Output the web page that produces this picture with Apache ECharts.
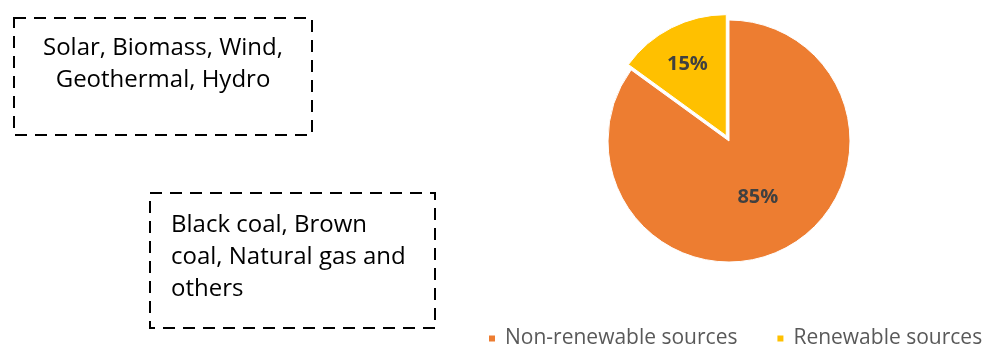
<!DOCTYPE html>
<html>
<head>
<meta charset="utf-8">
<script src="https://cdn.jsdelivr.net/npm/echarts@6/dist/echarts.min.js"></script>
<style>
  html, body { margin: 0; padding: 0; background: #fff; }
  #chart { width: 984px; height: 349px; }
</style>
</head>
<body>
<div id="chart"></div>
<script>
// Electricity generation mix: share of each source group (%)
const categories = ['Non-renewable sources', 'Renewable sources'];
const shares = [85, 15];
const sliceColors = ['#ED7D31', '#FFC000'];

// Notes listing what each group contains
const renewableNote = ['Solar, Biomass, Wind,', 'Geothermal, Hydro'];
const nonRenewableNote = ['Black coal, Brown', 'coal, Natural gas and', 'others'];

const FONT = '"Open Sans", "Noto Sans", sans-serif';

const chart = echarts.init(document.getElementById('chart'), null, { renderer: 'canvas' });

const dash = { stroke: '#000', lineWidth: 2, fill: null, lineDash: [12, 8] };

chart.setOption({
  animation: false,
  backgroundColor: '#fff',
  color: sliceColors,
  legend: {
    data: categories,
    left: 487,
    top: 328,
    width: 497,
    padding: 0,
    icon: 'rect',
    itemWidth: 8,
    itemHeight: 8,
    itemGap: 38,
    textStyle: { color: '#595959', fontSize: 21, fontFamily: FONT, padding: [0, 0, 0, 4] }
  },
  graphic: [
    { type: 'rect', shape: { x: 14, y: 18, width: 298, height: 117 }, style: dash },
    {
      type: 'text', x: 163, y: 32,
      style: {
        text: renewableNote.join('\n'), font: '24px ' + FONT, fill: '#000',
        align: 'center', lineHeight: 32
      }
    },
    { type: 'rect', shape: { x: 150, y: 193, width: 285, height: 135 }, style: dash },
    {
      type: 'text', x: 171, y: 209,
      style: {
        text: nonRenewableNote.join('\n'), font: '24px ' + FONT, fill: '#000',
        align: 'left', lineHeight: 32
      }
    }
  ],
  series: [{
    type: 'pie',
    center: [729, 141],
    radius: 121,
    startAngle: 90,
    clockwise: true,
    selectedMode: 'single',
    selectedOffset: 6,
    emphasis: { disabled: true },
    itemStyle: { borderColor: '#fff', borderWidth: 1 },
    label: {
      show: true,
      position: 'inside',
      formatter: '{c}%',
      color: '#404040',
      fontSize: 20,
      fontWeight: 'bold',
      fontFamily: FONT
    },
    labelLine: { show: false },
    labelLayout: function (p) {
      return p.dataIndex === 1 ? { dx: -10, dy: -15 } : {};
    },
    data: categories.map((name, i) => ({
      name: name,
      value: shares[i],
      selected: i === 1
    }))
  }]
});
</script>
</body>
</html>
